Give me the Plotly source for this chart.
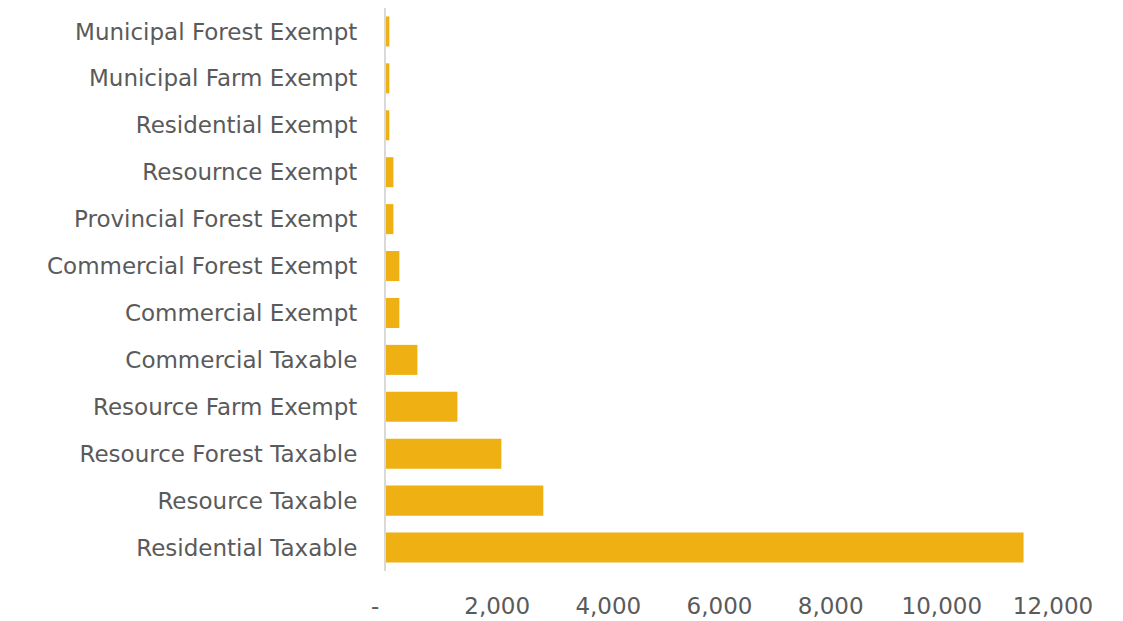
import plotly.graph_objects as go

# bottom to top, as drawn
categories = [
    "Residential Taxable",
    "Resource Taxable",
    "Resource Forest Taxable",
    "Resource Farm Exempt",
    "Commercial Taxable",
    "Commercial Exempt",
    "Commercial Forest Exempt",
    "Provincial Forest Exempt",
    "Resournce Exempt",
    "Residential Exempt",
    "Municipal Farm Exempt",
    "Municipal Forest Exempt",
]
values = [11470, 2830, 2075, 1285, 565, 240, 240, 133, 133, 60, 60, 60]

tick_vals = [0, 2000, 4000, 6000, 8000, 10000, 12000]
tick_text = ["-\u00a0\u00a0\u00a0", "2,000", "4,000", "6,000", "8,000", "10,000", "12,000"]

bar_color = "#EEB012"
text_color = "#5A5A5A"
font_family = "DejaVu Sans, Open Sans, sans-serif"
tick_font = dict(family=font_family, size=23, color=text_color)

fig = go.Figure()
fig.add_trace(
    go.Bar(
        x=values,
        y=categories,
        orientation="h",
        marker=dict(color=bar_color, line=dict(width=0)),
    )
)

# page body has an 8px margin, so the figure is shrunk and shifted to suit
fig.update_layout(
    width=1115,
    height=613,
    margin=dict(l=378, r=70, t=0, b=50),
    paper_bgcolor="white",
    plot_bgcolor="white",
    showlegend=False,
    bargap=0.36,
    font=dict(family=font_family, size=23, color=text_color),
    xaxis=dict(
        range=[0, 12000],
        tickvals=tick_vals,
        ticktext=tick_text,
        showgrid=False,
        zeroline=False,
        showline=False,
        ticks="",
        ticklabelstandoff=19,
        tickfont=tick_font,
        automargin=False,
    ),
    yaxis=dict(
        type="category",
        showgrid=False,
        zeroline=False,
        showline=True,
        linecolor="#D9D9D9",
        linewidth=2,
        ticks="",
        ticklabelstandoff=22,
        tickfont=tick_font,
        automargin=False,
    ),
)

fig.write_html("out.html")
